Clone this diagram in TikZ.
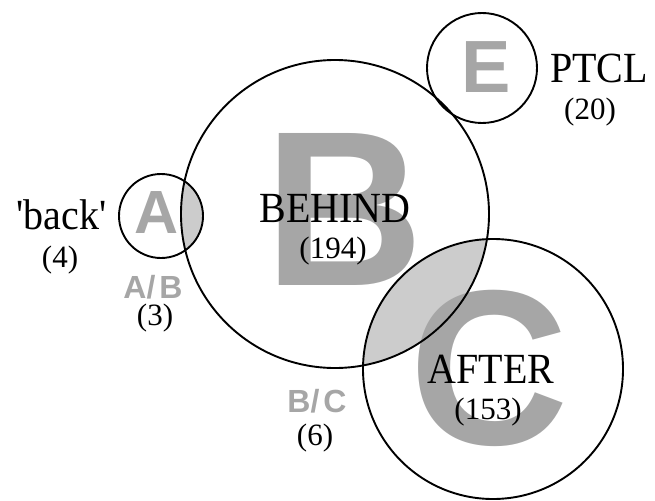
\documentclass[tikz,border=0pt]{standalone}
\usepackage{fontspec}
\setmainfont{Liberation Serif}
\newfontfamily\lettersans{Liberation Sans}
\definecolor{lettergray}{HTML}{A6A6A6}
\definecolor{lensgray}{HTML}{CCCCCC}
\begin{document}
\begin{tikzpicture}[x=1pt,y=-1pt,
  ring/.style={draw=black,line width=1.9pt},
  bigletter/.style={text=lettergray,inner sep=0pt,anchor=base,
    font=\lettersans\bfseries\fontsize{#1}{#1}\selectfont},
  overlaplabel/.style={text=lettergray,inner sep=0pt,anchor=base,
    font=\lettersans\bfseries\fontsize{32}{32}\selectfont},
  wordlabel/.style={inner sep=0pt,anchor=base,
    font=\fontsize{43}{43}\selectfont},
  countlabel/.style={inner sep=0pt,anchor=base,
    font=\fontsize{31}{31}\selectfont}]
\useasboundingbox (0,0) rectangle (655,500);

% circle centres
\coordinate (cA) at (161,216);
\coordinate (cB) at (335,214);
\coordinate (cC) at (493,369);
\coordinate (cE) at (482,68);

% shaded overlaps
\begin{scope}
  \clip (cA) circle[radius=42pt];
  \fill[lensgray] (cB) circle[radius=154pt];
\end{scope}
\begin{scope}
  \clip (cC) circle[radius=130pt];
  \fill[lensgray] (cB) circle[radius=154pt];
\end{scope}

% large set letters
\node[bigletter=221] (letB) at (344,285) {B};
\node[bigletter=221] (letC) at (489,444) {C};
\node[bigletter=61]  (letA) at (157,233) {A};
\node[bigletter=74]  (letE) at (486,93)  {E};

% set outlines
\draw[ring] (cA) circle[radius=42pt];
\draw[ring] (cB) circle[radius=154pt];
\draw[ring] (cC) circle[radius=130pt];
\draw[ring] (cE) circle[radius=55pt];

% category names and counts
\node[wordlabel] (back)   at (61.5,229) {\scalebox{0.93}[1]{\textquotesingle back\textquotesingle}};
\node[countlabel] (nback) at (60,267)   {(4)};
\node[wordlabel] (behind) at (335,222)  {\scalebox{0.93}[1]{BEHIND}};
\node[countlabel] (nbeh)  at (333,258)  {(194)};
\node[wordlabel] (after)  at (491,383)  {\scalebox{0.93}[1]{AFTER}};
\node[countlabel] (naft)  at (488,419)  {(153)};
\node[wordlabel] (ptcl)   at (599,83)   {\scalebox{0.93}[1]{PTCL}};
\node[countlabel] (nptcl) at (590,120)  {(20)};

% overlap labels
\node[overlaplabel] (ab)  at (153,298) {A/\hspace{4pt}B};
\node[countlabel]   (nab) at (155,325) {(3)};
\node[overlaplabel] (bc)  at (317,412) {B/\hspace{4pt}C};
\node[countlabel]   (nbc) at (315,445) {(6)};
\end{tikzpicture}
\end{document}
